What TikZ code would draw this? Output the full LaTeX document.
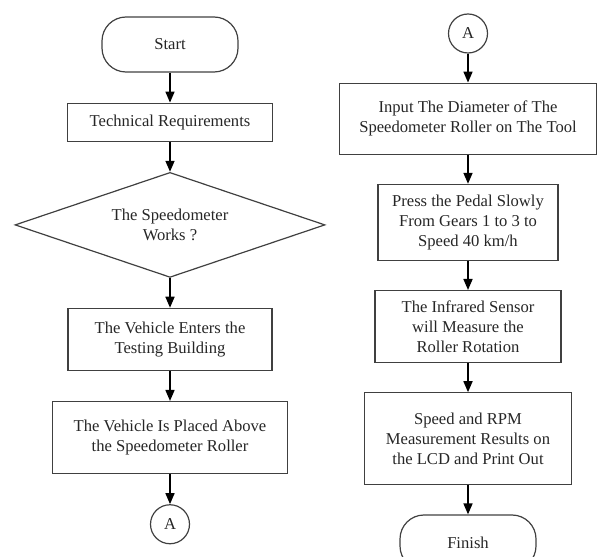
\documentclass[tikz,border=0pt]{standalone}
\usepackage{fontspec}
\setmainfont{Liberation Serif}
\usetikzlibrary{shapes.geometric,arrows.meta}

\begin{document}
\begin{tikzpicture}[
    font = \fontsize{8.3}{10}\selectfont,
    text = black!85,
    terminal/.style = {
      rectangle,
      draw = black!75, line width = .6pt,
      rounded corners = 12pt,
      align = center,
      minimum width = 68pt,
      minimum height = 27.5pt,
      inner sep = 0,
    },
    process/.style = {
      rectangle,
      draw = black!75, line width = .6pt,
      align = center,
      inner sep = 2pt,
    },
    decision/.style = {
      diamond,
      draw = black!75, line width = .6pt,
      align = center,
      aspect = 2.95,
      minimum width = 155pt,
      minimum height = 52.5pt,
      inner sep = 0,
    },
    connector/.style = {
      circle,
      draw = black!75, line width = .6pt,
      minimum size = 19.5pt,
      inner sep = 0,
    },
  ]
  \useasboundingbox (0,0) rectangle (299pt,278pt);

  % left column
  \matrix (colL) [row sep = 15pt, anchor = north, inner sep = 0] at (85pt,270pt) {
    \node[terminal] (start) {Start}; \\
    \node[process, minimum width = 102.5pt, minimum height = 19pt] (req) {Technical Requirements}; \\
    \node[decision] (works) {The Speedometer\\Works ?}; \\
    \node[process, minimum width = 102pt, minimum height = 31pt] (enter) {The Vehicle Enters the\\Testing Building}; \\
    \node[process, minimum width = 117.5pt, minimum height = 36pt] (place) {The Vehicle Is Placed Above\\the Speedometer Roller}; \\
    \node[connector] (outA) {A}; \\
  };

  % right column
  \matrix (colR) [row sep = 14.5pt, anchor = north, inner sep = 0] at (234pt,271.5pt) {
    \node[connector] (inA) {A}; \\
    \node[process, minimum width = 128.5pt, minimum height = 35.5pt] (diam) {Input The Diameter of The\\Speedometer Roller on The Tool}; \\
    \node[process, minimum width = 90pt, minimum height = 38pt] (pedal) {Press the Pedal Slowly\\From Gears 1 to 3 to\\Speed 40 km/h}; \\
    \node[process, minimum width = 93pt, minimum height = 36pt] (sensor) {The Infrared Sensor\\will Measure the\\Roller Rotation}; \\
    \node[process, minimum width = 103.5pt, minimum height = 46pt] (result) {Speed and RPM\\Measurement Results on\\the LCD and Print Out}; \\
    \node[terminal] (finish) {Finish}; \\
  };

  \begin{scope}[line width = .8pt, -{Triangle[width = 4.5pt, length = 5.5pt]}]
    \draw (start) -- (req);
    \draw (req) -- (works);
    \draw (works) -- (enter);
    \draw (enter) -- (place);
    \draw (place) -- (outA);

    \draw (inA) -- (diam);
    \draw (diam) -- (pedal);
    \draw (pedal) -- (sensor);
    \draw (sensor) -- (result);
    \draw (result) -- (finish);
  \end{scope}

\end{tikzpicture}
\end{document}
